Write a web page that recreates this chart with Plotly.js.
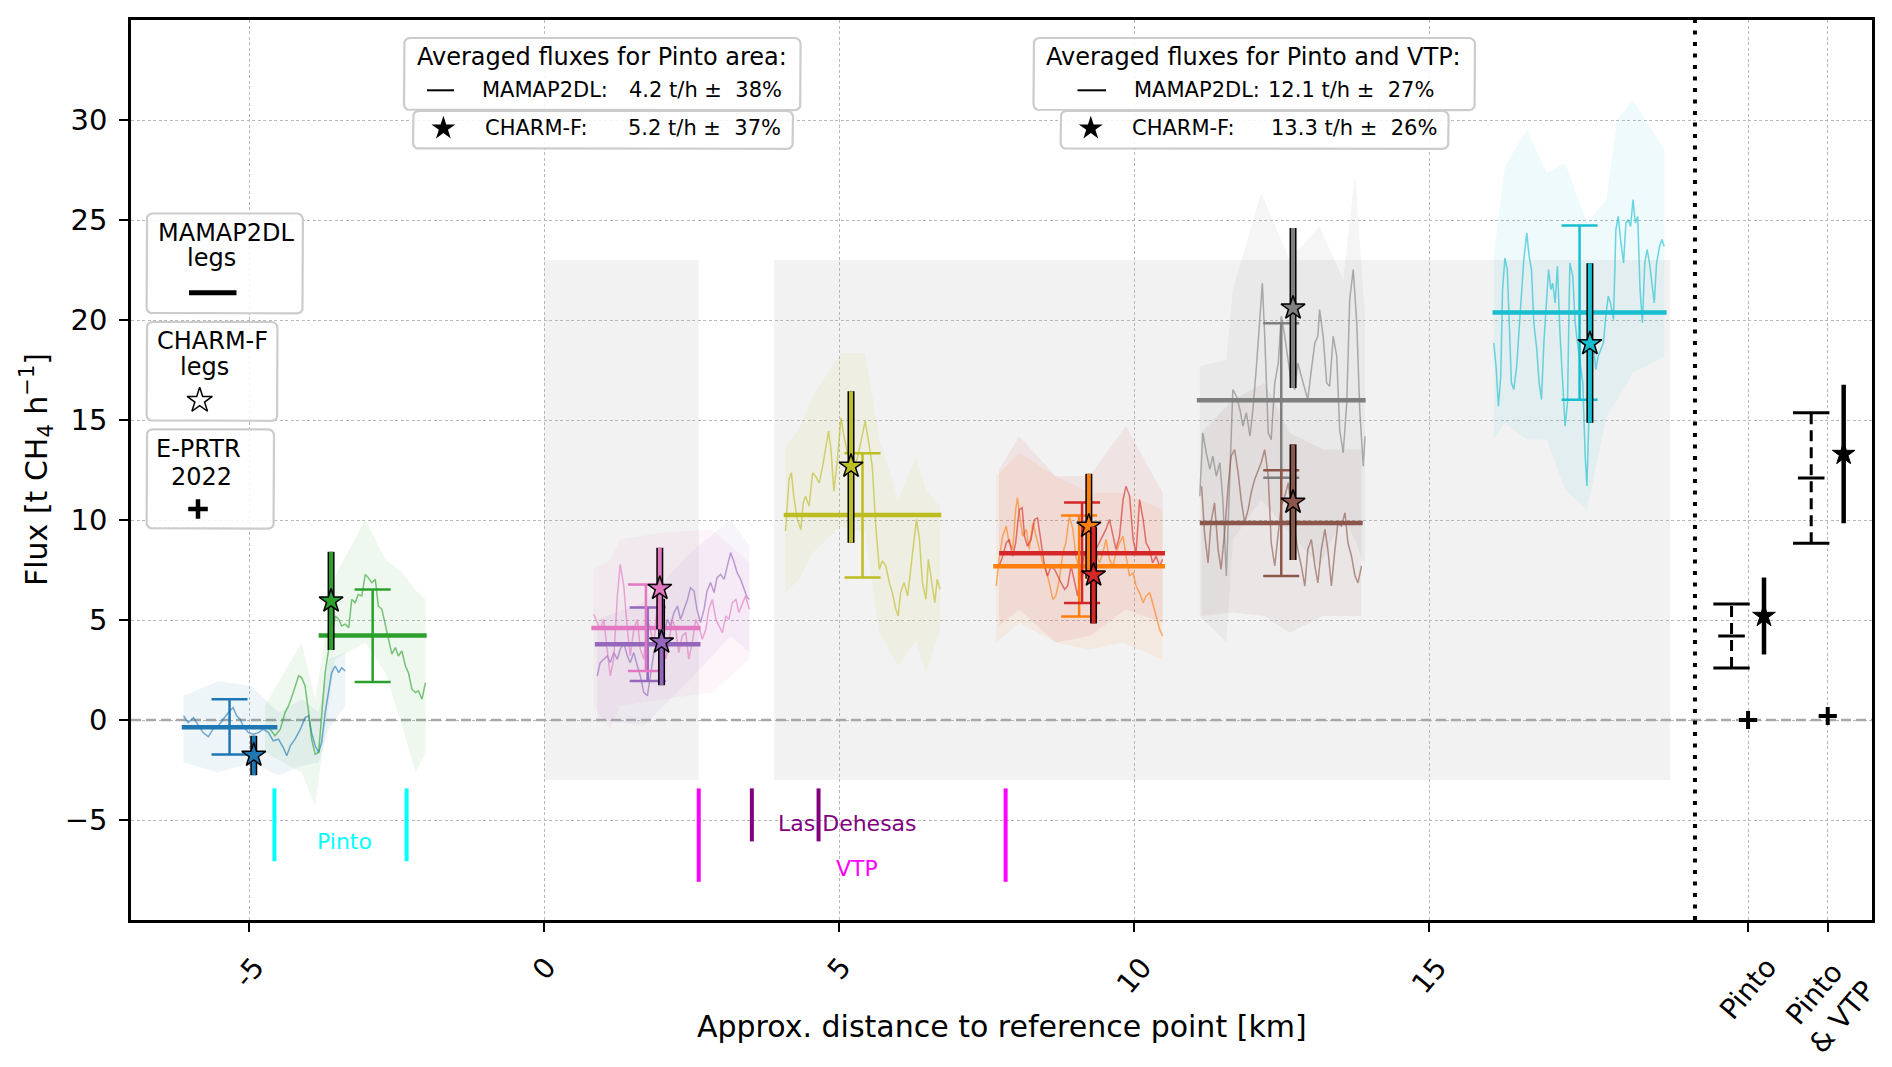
<!DOCTYPE html>
<html>
<head>
<meta charset="utf-8">
<script src="https://cdn.plot.ly/plotly-3.0.1.min.js"></script>
<style>
  html, body { margin: 0; padding: 0; background: #fff; }
  #chart { width: 1892px; height: 1067px; }
</style>
</head>
<body>
<div id="chart"></div>
<script>
// ---------- values ----------
// leg order: blue, green, purple, pink, olive, orange, red, gray, brown, cyan
const blueDist = [-6.11,-6.03,-5.94,-5.86,-5.78,-5.69,-5.61,-5.52,-5.44,-5.35,-5.27,-5.21,-5.15,-5.10,-5.01,-4.93,-4.84,-4.76,-4.67,-4.59,-4.50,-4.42,-4.36,-4.30,-4.22,-4.13,-4.05,-3.99,-3.94,-3.88,-3.82,-3.77,-3.71,-3.65,-3.60,-3.54,-3.48,-3.43,-3.37];
const blueFlux = [0.21,-0.13,0.12,-0.29,-0.63,-0.83,-0.46,-0.29,0.04,0.37,0.62,0.21,0.04,-0.29,-0.63,-0.71,-0.63,-0.46,-0.63,-1.04,-0.96,-1.38,-1.79,-1.29,-0.96,-0.46,0.12,0.21,-0.63,-1.29,-1.62,-1.13,0.37,1.37,2.37,2.70,2.37,2.62,2.45];
const blueBandDist = [-6.11,-5.52,-4.96,-4.50,-4.10,-3.82,-3.65,-3.37];
const blueBandHigh = [1.21,1.95,1.70,0.37,1.04,0.37,3.04,3.37];
const blueBandLow = [-2.13,-2.62,-2.13,-2.79,-2.29,-2.13,-0.46,0.70];

const greenDist = [-4.73,-4.64,-4.56,-4.47,-4.39,-4.33,-4.25,-4.16,-4.11,-4.05,-3.99,-3.94,-3.88,-3.82,-3.77,-3.71,-3.65,-3.60,-3.54,-3.48,-3.43,-3.37,-3.31,-3.26,-3.20,-3.15,-3.09,-3.03,-2.98,-2.92,-2.86,-2.81,-2.75,-2.69,-2.64,-2.58,-2.52,-2.47,-2.41,-2.35,-2.30,-2.24,-2.18,-2.13,-2.07,-2.01];
const greenFlux = [-0.29,-0.46,-0.79,-0.46,0.37,0.71,1.37,2.21,2.12,1.71,0.37,-0.96,-1.71,-1.62,0.21,2.37,3.54,4.20,5.20,5.04,4.70,4.79,4.62,6.03,5.87,6.28,6.20,7.28,7.12,6.87,7.03,5.70,5.54,4.70,4.04,3.29,3.62,3.20,3.45,2.70,2.37,1.54,1.37,1.46,1.04,1.87];
const greenBandDist = [-4.73,-4.11,-3.88,-3.54,-3.03,-2.69,-2.41,-2.18,-2.01];
const greenBandHigh = [0.71,3.87,1.04,7.20,10.03,8.03,7.37,6.50,6.03];
const greenBandLow = [-1.62,-2.62,-4.29,3.04,3.87,2.37,-0.29,-2.62,-1.62];

const purpleDist = [0.90,0.95,1.01,1.07,1.12,1.18,1.24,1.29,1.35,1.41,1.46,1.52,1.58,1.63,1.69,1.75,1.80,1.86,1.92,1.97,2.03,2.09,2.14,2.20,2.26,2.31,2.37,2.43,2.48,2.54,2.59,2.65,2.71,2.76,2.82,2.88,2.93,2.99,3.05,3.10,3.16,3.22,3.27,3.33,3.39,3.44,3.48];
const purpleFlux = [2.20,2.87,3.04,3.20,2.87,3.37,3.04,3.54,3.87,3.20,2.87,3.37,2.70,2.20,1.37,1.21,2.20,3.37,3.54,3.87,4.37,5.03,4.70,5.37,5.70,5.03,5.53,6.03,6.62,6.45,5.53,4.87,5.53,6.45,6.87,6.37,7.12,7.28,7.03,7.70,8.37,7.87,7.37,7.03,6.53,6.12,6.03];
const purpleBandDist = [0.90,1.69,2.48,3.16,3.48];
const purpleBandHigh = [5.03,5.87,8.37,10.03,8.70];
const purpleBandLow = [0.04,-0.29,2.04,4.20,3.37];

const pinkDist = [0.84,0.90,0.95,1.01,1.07,1.12,1.18,1.24,1.29,1.35,1.41,1.46,1.52,1.58,1.63,1.69,1.75,1.80,1.86,1.94,2.00,2.06,2.11,2.17,2.23,2.28,2.34,2.40,2.45,2.51,2.57,2.62,2.68,2.74,2.79,2.85,2.91,2.96,3.02,3.08,3.13,3.19,3.25,3.30,3.36,3.41,3.48];
const pinkFlux = [5.28,4.87,4.54,5.03,3.54,2.20,3.04,6.20,7.78,6.70,4.54,3.20,4.54,5.03,3.54,3.04,5.03,4.54,3.70,6.70,5.03,3.04,3.70,5.03,4.54,3.37,4.20,4.37,3.04,3.87,5.03,4.70,4.04,4.54,5.53,6.03,5.03,4.70,4.37,5.20,5.03,5.87,6.03,5.37,5.87,6.20,5.53];
const pinkBandDist = [0.84,1.12,1.29,2.00,2.85,3.48];
const pinkBandHigh = [7.53,8.00,9.03,9.36,9.53,7.87];
const pinkBandLow = [0.71,-0.46,0.71,1.04,1.37,3.04];

const oliveDist = [4.09,4.15,4.19,4.23,4.29,4.35,4.39,4.43,4.49,4.55,4.60,4.66,4.72,4.77,4.82,4.86,4.91,4.97,5.03,5.08,5.14,5.20,5.25,5.31,5.37,5.44,5.51,5.56,5.62,5.68,5.73,5.79,5.85,5.90,5.96,6.00,6.04,6.10,6.16,6.21,6.27,6.31,6.36,6.41,6.47,6.51,6.56,6.62,6.66,6.71];
const oliveFlux = [9.45,12.03,12.36,11.19,10.03,9.53,10.86,11.19,10.69,12.36,12.19,11.86,12.69,13.53,14.44,13.53,11.44,13.03,15.11,14.19,13.36,13.03,12.69,13.11,14.02,14.94,13.69,12.69,9.70,7.53,7.95,7.70,6.87,6.37,5.53,5.20,6.37,6.87,6.20,7.37,9.03,10.03,9.03,6.87,6.03,8.03,7.03,5.87,7.03,6.53];
const oliveBandDist = [4.09,4.32,4.55,5.03,5.44,5.68,6.00,6.30,6.47,6.71];
const oliveBandHigh = [13.69,14.50,16.19,18.35,18.35,14.02,11.00,13.19,11.50,10.69];
const oliveBandLow = [6.37,7.03,8.36,9.70,9.36,4.37,2.70,4.00,2.37,4.53];

const orangeDist = [7.66,7.71,7.77,7.83,7.88,7.94,7.99,8.02,8.06,8.11,8.17,8.22,8.28,8.34,8.39,8.45,8.50,8.56,8.62,8.67,8.73,8.79,8.84,8.90,8.96,9.01,9.07,9.13,9.18,9.24,9.30,9.35,9.41,9.47,9.52,9.58,9.64,9.69,9.75,9.81,9.86,9.92,9.98,10.03,10.09,10.15,10.20,10.26,10.31,10.37,10.43,10.48];
const orangeFlux = [6.70,8.03,9.19,9.69,8.86,8.53,10.52,11.11,10.19,9.19,9.53,8.53,9.86,9.19,8.53,7.86,7.53,6.86,6.03,6.20,7.03,8.36,8.86,10.19,9.53,8.19,7.53,7.20,8.36,7.20,7.86,8.36,7.86,8.36,9.03,8.03,7.69,8.36,8.86,9.19,8.19,7.20,7.36,6.70,6.36,5.86,6.20,6.36,5.86,5.20,4.53,4.20];
const orangeBandDist = [7.66,8.05,8.67,9.24,9.81,10.48];
const orangeBandHigh = [12.19,13.36,12.19,11.36,11.36,10.52];
const orangeBandLow = [3.87,4.86,3.87,3.53,3.87,3.03];

const redDist = [7.71,7.77,7.83,7.88,7.94,7.99,8.05,8.10,8.14,8.19,8.25,8.31,8.36,8.42,8.48,8.53,8.59,8.65,8.70,8.76,8.82,8.87,8.93,8.99,9.04,9.10,9.16,9.24,9.30,9.35,9.41,9.47,9.52,9.58,9.64,9.69,9.75,9.81,9.86,9.92,9.98,10.03,10.09,10.15,10.20,10.26,10.31,10.37,10.43,10.48];
const redFlux = [7.69,8.19,8.86,9.03,8.19,8.86,10.52,10.61,9.19,8.69,9.03,10.03,10.11,8.86,7.69,7.20,7.69,7.53,7.20,6.86,6.53,6.70,7.69,6.86,6.20,7.53,8.36,8.69,9.03,8.53,8.86,9.19,9.53,10.03,9.19,8.53,9.19,11.02,11.69,11.19,9.03,8.36,11.02,10.03,8.86,8.53,7.86,8.19,7.69,8.03];
const redBandDist = [7.71,8.05,8.67,9.24,9.86,10.48];
const redBandHigh = [12.52,14.19,12.19,12.19,14.69,11.36];
const redBandLow = [4.70,5.53,3.87,4.20,5.53,4.86];

const grayDist = [11.11,11.16,11.22,11.28,11.33,11.39,11.45,11.50,11.56,11.62,11.67,11.73,11.79,11.84,11.90,11.96,12.01,12.07,12.13,12.17,12.21,12.27,12.32,12.38,12.44,12.49,12.55,12.61,12.66,12.72,12.77,12.83,12.89,12.94,13.00,13.06,13.11,13.14,13.20,13.26,13.31,13.37,13.43,13.48,13.54,13.60,13.65,13.71,13.77,13.82,13.88,13.91];
const grayFlux = [11.19,14.36,13.36,12.53,13.19,12.19,12.86,11.03,7.20,11.86,16.52,16.19,15.52,14.69,15.36,14.19,15.52,17.69,20.52,21.85,19.19,14.36,14.02,16.85,17.85,20.19,19.19,17.85,16.85,16.52,17.85,17.19,16.52,16.02,17.52,18.85,19.19,20.52,19.19,16.85,16.69,19.19,18.19,14.52,13.36,15.86,21.02,22.52,19.85,15.52,12.69,14.19];
const grayBandDist = [11.11,11.56,11.67,12.15,12.63,13.14,13.54,13.74,13.91];
const grayBandHigh = [17.69,18.00,21.52,26.35,23.02,24.68,22.00,27.34,20.19];
const grayBandLow = [5.20,3.87,9.00,11.03,9.36,7.70,10.19,9.00,7.70];

const brownDist = [11.14,11.19,11.25,11.30,11.36,11.42,11.47,11.53,11.59,11.64,11.70,11.76,11.81,11.87,11.93,11.98,12.04,12.10,12.15,12.21,12.27,12.32,12.38,12.44,12.49,12.55,12.61,12.66,12.72,12.77,12.83,12.89,12.94,13.00,13.06,13.11,13.17,13.23,13.28,13.34,13.40,13.45,13.51,13.57,13.62,13.68,13.74,13.79,13.85];
const brownFlux = [11.69,9.36,7.86,9.86,10.86,8.53,7.53,9.36,11.69,13.19,13.52,12.36,11.03,9.86,10.53,11.36,12.03,12.53,12.86,13.52,12.19,8.86,7.70,9.36,10.69,11.19,11.86,10.53,9.36,8.53,7.70,6.70,8.53,9.03,7.70,6.86,8.53,9.53,8.53,6.70,8.53,9.86,9.69,10.36,8.86,8.20,7.20,6.86,7.70];
const brownBandDist = [11.14,11.67,12.21,12.63,13.20,13.85];
const brownBandHigh = [14.36,16.02,16.85,14.36,13.52,13.52];
const brownBandLow = [5.20,5.37,5.20,4.36,5.20,5.20];

const cyanDist = [16.09,16.13,16.17,16.21,16.24,16.28,16.32,16.35,16.39,16.43,16.48,16.52,16.56,16.60,16.65,16.69,16.73,16.77,16.82,16.86,16.90,16.94,16.99,17.02,17.06,17.09,17.13,17.17,17.21,17.26,17.30,17.34,17.38,17.43,17.47,17.51,17.55,17.60,17.64,17.67,17.70,17.73,17.78,17.82,17.86,17.90,17.95,17.99,18.03,18.07,18.12,18.16,18.20,18.24,18.29,18.33,18.37,18.41,18.45,18.49,18.53,18.57,18.61,18.65,18.69,18.73,18.77,18.81,18.85,18.90,18.94,18.98];
const cyanFlux = [18.86,17.69,15.69,17.19,21.52,23.10,22.52,20.19,16.86,16.52,17.69,19.52,21.52,23.02,24.35,23.19,22.52,19.86,18.52,16.86,16.03,18.86,21.19,22.52,21.52,21.85,20.85,22.69,19.52,16.52,14.69,15.86,22.85,22.19,19.86,18.86,17.86,16.86,13.19,11.70,14.86,17.86,18.69,17.52,18.19,18.52,18.86,20.19,21.19,20.85,20.02,24.52,25.18,24.02,22.85,24.85,25.02,24.68,26.02,24.85,25.18,21.52,19.86,22.85,23.52,22.85,21.85,20.85,22.85,23.68,24.02,23.68];
const cyanBandDist = [16.09,16.28,16.65,16.99,17.30,17.67,18.00,18.18,18.45,18.98];
const cyanBandHigh = [23.19,27.68,29.51,27.35,27.85,24.85,26.00,30.01,31.01,28.51];
const cyanBandLow = [14.03,14.86,14.03,14.03,11.53,10.53,15.19,16.00,17.36,18.19];

// per-leg MAMAP2DL mean (bar over the leg) and its error
const mamapMean  = [-0.36, 4.22, 3.79, 4.60, 10.25, 7.69, 8.34, 15.99, 9.85, 20.37];
const mamapStart = [-6.14, -3.82, 0.86, 0.80, 4.06, 7.61, 7.71, 11.06, 11.11, 16.07];
const mamapEnd   = [-4.52, -1.99, 2.65, 2.65, 6.73, 10.52, 10.52, 13.92, 13.87, 19.02];
const mamapHigh  = [1.04, 6.53, 5.62, 6.78, 13.34, 10.23, 10.87, 19.84, 12.49, 24.72];
const mamapLow   = [-1.72, 1.90, 1.95, 2.45, 7.12, 5.18, 5.85, 12.11, 7.20, 16.01];
// per-leg CHARM-F estimate
const charmDist = [-4.92, -3.61, 1.99, 1.96, 5.20, 9.23, 9.31, 12.69, 12.69, 17.72];
const charmFlux = [-1.76, 5.95, 3.90, 6.58, 12.69, 9.69, 7.25, 20.60, 10.89, 18.82];
const charmHigh = [-0.79, 8.41, 6.06, 8.61, 16.44, 12.31, 9.66, 24.60, 13.78, 22.84];
const charmLow  = [-2.76, 3.50, 1.74, 4.54, 8.86, 7.07, 4.83, 16.60, 8.00, 14.86];

// averaged fluxes (right-hand panel)
const catDist = [20.4, 21.75];
const catLabels = ["Pinto", "Pinto<br>& VTP"];
const avgMamap = [4.2, 12.1];
const avgMamapRel = [0.38, 0.27];
const avgCharm = [5.2, 13.3];
const avgCharmRel = [0.37, 0.26];
const eprtr2022 = [0.0, 0.2];

// site markers below the legs
const pintoEdges = [-4.57, -2.33];
const dehesasEdges = [3.52, 4.65];
const vtpEdges = [2.62, 7.82];
const shadeStart = [0, 3.9];
const shadeEnd = [2.62, 19.08];

const xTickVals = [-5, 0, 5, 10, 15];
const xTickText = ["-5", "0", "5", "10", "15"];
const yTickVals = [-5, 0, 5, 10, 15, 20, 25, 30];

// ---------- styling ----------
const FONT = "DejaVu Sans, sans-serif";
const colors = ["#1f77b4", "#2ca02c", "#9467bd", "#e377c2", "#bcbd22", "#ff7f0e", "#d62728", "#7f7f7f", "#8c564b", "#17becf"];
const legs = [
  [blueDist, blueFlux, blueBandDist, blueBandHigh, blueBandLow],
  [greenDist, greenFlux, greenBandDist, greenBandHigh, greenBandLow],
  [purpleDist, purpleFlux, purpleBandDist, purpleBandHigh, purpleBandLow],
  [pinkDist, pinkFlux, pinkBandDist, pinkBandHigh, pinkBandLow],
  [oliveDist, oliveFlux, oliveBandDist, oliveBandHigh, oliveBandLow],
  [orangeDist, orangeFlux, orangeBandDist, orangeBandHigh, orangeBandLow],
  [redDist, redFlux, redBandDist, redBandHigh, redBandLow],
  [grayDist, grayFlux, grayBandDist, grayBandHigh, grayBandLow],
  [brownDist, brownFlux, brownBandDist, brownBandHigh, brownBandLow],
  [cyanDist, cyanFlux, cyanBandDist, cyanBandHigh, cyanBandLow]
];

function rgba(hex, a) {
  const n = parseInt(hex.slice(1), 16);
  return `rgba(${n >> 16},${(n >> 8) & 255},${n & 255},${a})`;
}

// plot area in pixels, used for the legend boxes (paper coords)
const PL = 131, PR = 1872, PT = 20, PB = 920;
const px = (x) => (x - PL) / (PR - PL);
const py = (y) => (PB - y) / (PB - PT);
const xRange = [-7, 22.5];

const traces = [];
const base = { hoverinfo: "skip", showlegend: false };

// dashed zero line across the whole axis
traces.push({ ...base, type: "scatter", mode: "lines", x: xRange, y: [0, 0],
  line: { color: "#a8a8a8", width: 2.5, dash: "10px,5px" } });

// shaded uncertainty bands
legs.forEach(([, , bd, bh, bl], i) => {
  traces.push({ ...base, type: "scatter", mode: "lines",
    x: bd.concat([...bd].reverse()), y: bh.concat([...bl].reverse()),
    fill: "toself", fillcolor: rgba(colors[i], 0.075), line: { width: 0 } });
});
// flux along each leg
legs.forEach(([d, f], i) => {
  traces.push({ ...base, type: "scatter", mode: "lines", x: d, y: f,
    line: { color: rgba(colors[i], 0.62), width: 1.5 } });
});
// MAMAP2DL mean bars + error
colors.forEach((c, i) => {
  traces.push({ ...base, type: "scatter", mode: "lines",
    x: [mamapStart[i], mamapEnd[i]], y: [mamapMean[i], mamapMean[i]],
    line: { color: c, width: 4.5 } });
});
colors.forEach((c, i) => {
  traces.push({ ...base, type: "scatter", mode: "markers",
    x: [(mamapStart[i] + mamapEnd[i]) / 2], y: [mamapMean[i]],
    marker: { size: 1, color: "rgba(0,0,0,0)" },
    error_y: { type: "data", symmetric: false, array: [mamapHigh[i] - mamapMean[i]],
      arrayminus: [mamapMean[i] - mamapLow[i]], color: c, thickness: 2.5, width: 18 } });
});
// CHARM-F stars with outlined error bars
colors.forEach((c, i) => {
  traces.push({ ...base, type: "scatter", mode: "lines",
    x: [charmDist[i], charmDist[i]], y: [charmLow[i], charmHigh[i]],
    line: { color: "black", width: 7 } });
  traces.push({ ...base, type: "scatter", mode: "lines",
    x: [charmDist[i], charmDist[i]], y: [charmLow[i], charmHigh[i]],
    line: { color: c, width: 4 } });
  traces.push({ ...base, type: "scatter", mode: "markers",
    x: [charmDist[i]], y: [charmFlux[i]],
    marker: { symbol: "star", size: 18, color: c, line: { color: "black", width: 1.5 } } });
});

// site marker lines
function edgeTrace(edges, top, bottom, color) {
  return { ...base, type: "scatter", mode: "lines",
    x: [edges[0], edges[0], null, edges[1], edges[1]],
    y: [top, bottom, null, top, bottom], line: { color, width: 4 } };
}
traces.push(edgeTrace(pintoEdges, -3.42, -7.06, "#00ffff"));
traces.push(edgeTrace(vtpEdges, -3.42, -8.09, "#ff00ff"));
traces.push(edgeTrace(dehesasEdges, -3.42, -6.07, "#800080"));

// averaged fluxes
const mamapOff = -0.28, charmOff = 0.27;
catDist.forEach((cx, k) => {
  const m = avgMamap[k], me = m * avgMamapRel[k];
  const c = avgCharm[k], ce = c * avgCharmRel[k];
  traces.push({ ...base, type: "scatter", mode: "lines",
    x: [cx + mamapOff, cx + mamapOff], y: [m - me, m + me],
    line: { color: "black", width: 3, dash: "11px,6px" } });
  traces.push({ ...base, type: "scatter", mode: "markers",
    x: [cx + mamapOff, cx + mamapOff], y: [m - me, m + me],
    marker: { symbol: "line-ew", size: 26, line: { color: "black", width: 3 } } });
  traces.push({ ...base, type: "scatter", mode: "markers",
    x: [cx + mamapOff], y: [m],
    marker: { symbol: "line-ew", size: 19, line: { color: "black", width: 3 } } });
  traces.push({ ...base, type: "scatter", mode: "lines",
    x: [cx + charmOff, cx + charmOff], y: [c - ce, c + ce],
    line: { color: "black", width: 4.5 } });
  traces.push({ ...base, type: "scatter", mode: "markers",
    x: [cx + charmOff], y: [c],
    marker: { symbol: "star", size: 17, color: "black", line: { color: "black", width: 1 } } });
  traces.push({ ...base, type: "scatter", mode: "markers",
    x: [cx], y: [eprtr2022[k]],
    marker: { symbol: "cross-thin", size: 13, line: { color: "black", width: 4 } } });
});

// ---------- legend boxes (overlay axes in paper units) ----------
function boxTrace(x0, y0, x1, y1) {
  const r = 6, pts = [];
  [[x1 - r, y0 + r, -90], [x1 - r, y1 - r, 0], [x0 + r, y1 - r, 90], [x0 + r, y0 + r, 180]].forEach(([cx, cy, a0]) => {
    for (let k = 0; k <= 4; k++) {
      const a = (a0 + k * 22.5) * Math.PI / 180;
      pts.push([cx + r * Math.cos(a), cy + r * Math.sin(a)]);
    }
  });
  pts.push(pts[0]);
  return { ...base, type: "scatter", mode: "lines", xaxis: "x2", yaxis: "y2",
    x: pts.map(p => px(p[0])), y: pts.map(p => py(p[1])),
    fill: "toself", fillcolor: "rgba(255,255,255,0.85)", line: { color: "#cccccc", width: 2.2 } };
}
[[404, 38, 800.6, 110.2], [413, 110.9, 793, 148.8],
 [1033.5, 38, 1475, 110.2], [1060.6, 110.9, 1448.6, 148.8],
 [146.6, 213.5, 302.9, 313.4], [146.6, 322, 277.5, 420.8], [146.6, 429.4, 274, 528.6]
].forEach(b => traces.push(boxTrace(...b)));

function handleLine(x0, x1, y, w) {
  return { ...base, type: "scatter", mode: "lines", xaxis: "x2", yaxis: "y2",
    x: [px(x0), px(x1)], y: [py(y), py(y)], line: { color: "black", width: w } };
}
function handleMarker(x, y, marker) {
  return { ...base, type: "scatter", mode: "markers", xaxis: "x2", yaxis: "y2",
    x: [px(x)], y: [py(y)], marker };
}
traces.push(handleLine(427, 454, 90.3, 2));
traces.push(handleLine(1077.5, 1106, 90.3, 2));
traces.push(handleLine(189, 236.5, 292.7, 5));
traces.push(handleMarker(443.4, 128.3, { symbol: "star", size: 18, color: "black" }));
traces.push(handleMarker(1090.8, 128.3, { symbol: "star", size: 18, color: "black" }));
traces.push(handleMarker(199.7, 400.5, { symbol: "star-open", size: 19, color: "black", line: { width: 1.5 } }));
traces.push(handleMarker(198, 509, { symbol: "cross-thin", size: 14, line: { color: "black", width: 4.5 } }));

// ---------- annotations ----------
const annotations = [];
function paperText(text, x, y, size, xanchor, extra) {
  annotations.push(Object.assign({ text, x: px(x), y: py(y), xref: "paper", yref: "paper",
    xanchor: xanchor || "center", yanchor: "middle", showarrow: false,
    font: { family: FONT, size, color: "black" } }, extra || {}));
}
const pct = (v) => Math.round(v * 100) + "%";
const NB = "\u00a0";
paperText("Averaged fluxes for Pinto area:", 601.8, 56.9, 24);
paperText("MAMAP2DL:", 479.6, 90.3, 21, "left");
paperText(`${avgMamap[0].toFixed(1)} t/h ±${NB}${NB}${pct(avgMamapRel[0])}`, 784.3, 90.3, 21, "right");
paperText("CHARM-F:", 482.7, 128.3, 21, "left");
paperText(`${avgCharm[0].toFixed(1)} t/h ±${NB}${NB}${pct(avgCharmRel[0])}`, 783, 128.3, 21, "right");
paperText("Averaged fluxes for Pinto and VTP:", 1253.7, 56.9, 24);
paperText("MAMAP2DL:", 1131.8, 90.3, 21, "left");
paperText(`${avgMamap[1].toFixed(1)} t/h ±${NB}${NB}${pct(avgMamapRel[1])}`, 1436, 90.3, 21, "right");
paperText("CHARM-F:", 1130, 128.3, 21, "left");
paperText(`${avgCharm[1].toFixed(1)} t/h ±${NB}${NB}${pct(avgCharmRel[1])}`, 1439, 128.3, 21, "right");

paperText("MAMAP2DL", 225.6, 232.5, 24);
paperText("legs", 211.8, 258, 24);
paperText("CHARM-F", 212, 341, 24);
paperText("legs", 204, 366.5, 24);
paperText("E-PRTR", 198.5, 448.7, 24);
paperText("2022", 201.8, 477, 24);

// axis titles
paperText("Approx. distance to reference point [km]", 1001.5, 1026.6, 30);
paperText("Flux [t CH<sub>4</sub> h<sup>−1</sup>]", 36, 470, 30, "center", { textangle: -90 });

// rotated x tick labels
xTickVals.concat(catDist).forEach((v, k) => {
  annotations.push({ text: xTickText.concat(catLabels)[k], x: v, xref: "x", y: 0, yref: "paper",
    xanchor: "center", yanchor: "top", yshift: -28, textangle: -50, showarrow: false,
    font: { family: FONT, size: 28, color: "black" } });
});

// site names
function siteText(text, x, y, color) {
  annotations.push({ text, x, y, xref: "x", yref: "y", showarrow: false,
    xanchor: "center", yanchor: "middle", font: { family: FONT, size: 22, color } });
}
siteText("Pinto", (pintoEdges[0] + pintoEdges[1]) / 2 + 0.07, -6.07, "#00ffff");
siteText("Las Dehesas", 5.14, -5.15, "#800080");
siteText("VTP", 5.30, -7.40, "#ff00ff");

// ---------- shapes ----------
const shapes = [];
shadeStart.forEach((s, k) => {
  shapes.push({ type: "rect", xref: "x", yref: "y", x0: s, x1: shadeEnd[k], y0: -3, y1: 23,
    fillcolor: "#f2f2f2", line: { width: 0 }, layer: "below" });
});
shapes.push({ type: "line", xref: "x", yref: "paper", x0: 19.5, x1: 19.5, y0: 0, y1: 1,
  line: { color: "black", width: 4, dash: "4px,7.5px" }, layer: "above" });

const axisCommon = {
  ticks: "outside", ticklen: 9, tickwidth: 2, tickcolor: "black",
  showline: true, linecolor: "black", linewidth: 2.5, mirror: true,
  showgrid: true, gridcolor: "#b8b8b8", gridwidth: 1.2, griddash: "3px,2.5px",
  zeroline: false
};

const layout = {
  width: 1892, height: 1067,
  margin: { l: PL, r: 1892 - PR, t: PT, b: 1067 - PB },
  paper_bgcolor: "white", plot_bgcolor: "white",
  font: { family: FONT, size: 24, color: "black" },
  showlegend: false,
  xaxis: { ...axisCommon, range: xRange, tickvals: xTickVals.concat(catDist), showticklabels: false },
  yaxis: { ...axisCommon, range: [-10, 35], tickvals: yTickVals, tickfont: { family: FONT, size: 29 }, ticklabelstandoff: 6 },
  xaxis2: { overlaying: "x", range: [0, 1], visible: false },
  yaxis2: { overlaying: "y", range: [0, 1], visible: false },
  shapes, annotations
};

Plotly.newPlot("chart", traces, layout, { displayModeBar: false, responsive: false });
</script>
</body>
</html>
